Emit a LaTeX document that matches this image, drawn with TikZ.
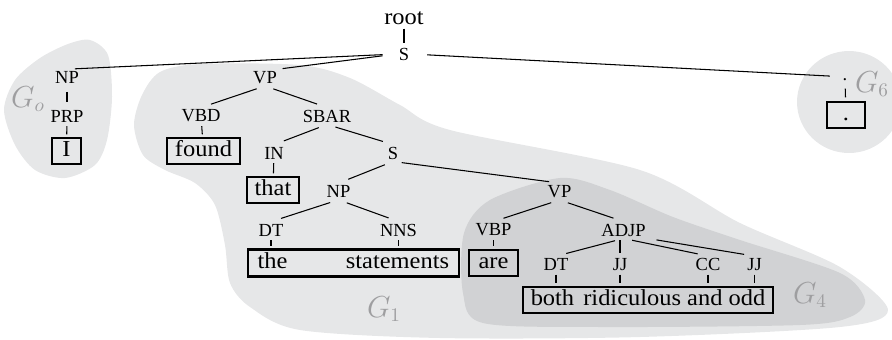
\documentclass[tikz,border=0pt]{standalone}
\usepackage[no-math]{fontspec}
\setmainfont{Liberation Serif}
\newfontfamily\leaffont{Liberation Serif}[FakeStretch=1.07]
\usepackage{tikz}
\usetikzlibrary{fit}
\definecolor{blobgray}{RGB}{230,231,232}
\definecolor{blobdark}{RGB}{209,210,212}
\definecolor{labgray}{RGB}{158,158,160}
\tikzstyle{tagnode}=[inner sep=1pt,font=\fontsize{10.5}{12}\selectfont]
\tikzstyle{leafbox}=[draw,line width=1.2pt,inner xsep=4.5pt,inner ysep=0pt,minimum height=0.52cm,text height=8.8pt,text depth=2.8pt,font=\leaffont\fontsize{13}{15}\selectfont]
\tikzstyle{wordnode}=[inner sep=0pt,minimum height=0.52cm,text height=8.8pt,text depth=2.8pt,font=\leaffont\fontsize{13}{15}\selectfont]
\tikzstyle{fitbox}=[draw,line width=1.2pt,inner xsep=5.3pt,inner ysep=0pt]
\tikzstyle{glabel}=[inner sep=0pt,text=labgray,font=\fontsize{16}{19}\selectfont]

\begin{document}
\begin{tikzpicture}
	[x=0.02cm,y=-0.02cm,line width=0.6pt]
	\tikzstyle{branch}=[shorten <=5pt,shorten >=6pt];
	\tikzstyle{stemline}=[shorten <=1pt,shorten >=1.5pt];
	\useasboundingbox (0,0) rectangle (892,339);
	% groups
	\fill[blobgray] plot[smooth cycle] coordinates {(160,72) (200,64) (300,65) (350,78) (400,105) (450,130) (640,170) (740,223) (840,267) (888,310) (840,327) (640,337) (440,338) (300,330) (250,307) (230,283) (225,245) (215,205) (195,183) (165,170) (143,155) (134,125) (142,95)};
	\fill[blobdark] plot[smooth cycle] coordinates {(560,178) (610,190) (673,217) (740,240) (840,273) (865,300) (850,317) (800,325) (600,327) (483,323) (463,293) (464,233) (490,200)};
	\fill[blobgray] plot[smooth cycle] coordinates {(90,40) (108,55) (112,97) (107,140) (95,165) (65,178) (35,170) (15,145) (4,110) (15,80) (40,58) (68,44)};
	\fill[blobgray] (849,102) ellipse [x radius=1.04cm,y radius=1.02cm];
	\node[glabel] (g0) at (28,99) {$G_o$};
	\node[glabel] (g1) at (384,309) {$G_1$};
	\node[glabel] (g4) at (810,295) {$G_4$};
	\node[glabel] (g6) at (872,84) {$G_6$};
	% tree
	\node[tagnode,font=\leaffont\fontsize{13}{15}\selectfont] (root) at (404,18) {root};
	\node[tagnode] (s0) at (404,54) {S};
	\node[tagnode] (np0) at (67,77.5) {NP};
	\node[tagnode] (prp) at (67,116) {PRP};
	\node[leafbox,minimum width=0.58cm] (i) at (66.5,151) {I};
	\node[tagnode] (vp1) at (265,77.5) {VP};
	\node[tagnode] (vbd) at (201,116) {VBD};
	\node[leafbox] (found) at (203.5,151) {found};
	\node[tagnode] (sbar) at (327,116) {SBAR};
	\node[tagnode] (in) at (274,153) {IN};
	\node[leafbox] (that) at (273,190) {that};
	\node[tagnode] (s1) at (393,153) {S};
	\node[tagnode] (np1) at (338.5,191.5) {NP};
	\node[tagnode] (dt1) at (271,230) {DT};
	\node[tagnode] (nns) at (398.5,230) {NNS};
	\node[wordnode] (the) at (272.5,263) {the};
	\node[wordnode] (statements) at (397.5,263) {statements};
	\node[fitbox,fit=(the)(statements)] (stbox) {};
	\node[tagnode] (vp4) at (559.5,191.5) {VP};
	\node[tagnode] (vbp) at (493.5,230) {VBP};
	\node[leafbox,minimum width=0.98cm] (are) at (493.5,263) {are};
	\node[tagnode] (adjp) at (623.5,230) {ADJP};
	\node[tagnode] (dt4) at (556,264.5) {DT};
	\node[tagnode] (jj4) at (620,264.5) {JJ};
	\node[tagnode] (cc) at (708,264.5) {CC};
	\node[tagnode] (jj5) at (754.5,264.5) {JJ};
	\node[leafbox,inner xsep=4.2pt] (brbox) at (648,300) {both\hspace{0.4em}ridiculous and odd};
	\node[tagnode] (pun) at (845,80) {.};
	\node[leafbox,minimum width=0.76cm] (dotbox) at (846,115) {.};
	% edges
	\draw[stemline] (root) -- (s0);
	\draw[shorten <=8pt,shorten >=4.5pt] (s0.west) -- (np0.north);
	\draw[shorten <=8pt,shorten >=2pt] (s0.west) -- (vp1.north east);
	\draw[shorten <=9pt,shorten >=6pt] (s0.east) -- (pun.north west);
	\draw[shorten <=3.5pt,shorten >=3.5pt] (np0) -- (prp);
	\draw[stemline] (prp) -- (i);
	\path[draw,branch]
		(vp1.south) edge (vbd.north)
		(vp1.south) edge (sbar.north)
		(sbar.south) edge (in.north)
		(sbar.south) edge (s1.north)
		(s1.south) edge (np1.north)
		(s1.south) edge (vp4.north)
		(np1.south) edge (dt1.north)
		(np1.south) edge (nns.north)
		(vp4.south) edge (vbp.north)
		(vp4.south) edge (adjp.north)
		(adjp.south) edge (dt4.north)
		(adjp.south) edge (cc.north)
		(adjp.south east) edge (jj5.north);
	\path[draw,stemline]
		(vbd) edge (found)
		(in) edge (that)
		(dt1) edge (dt1 |- stbox.north)
		(nns) edge (nns |- stbox.north)
		(vbp) edge (are)
		(jj4 |- adjp.south) edge (jj4.north)
		(dt4) edge (dt4 |- brbox.north)
		(jj4) edge (jj4 |- brbox.north)
		(cc) edge (cc |- brbox.north)
		(jj5) edge (jj5 |- brbox.north);
	\draw[shorten <=3pt,shorten >=2pt] (pun) -- (dotbox);
\end{tikzpicture}
\end{document}
